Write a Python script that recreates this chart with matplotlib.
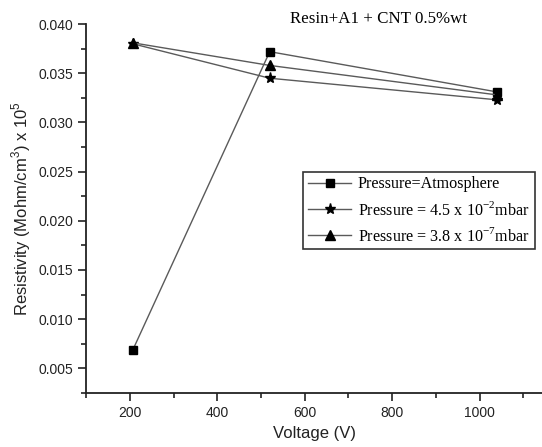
import numpy as np
import matplotlib.pyplot as plt
from matplotlib.ticker import MultipleLocator

# values (markers sit slightly right of the tick marks)
voltage = [207, 520, 1041]
res_atm = [0.0069, 0.0372, 0.0331]
res_45 = [0.0380, 0.0345, 0.0323]
res_38 = [0.0381, 0.0358, 0.0328]

labels = ["Pressure=Atmosphere",
          r"Pressure = 4.5 x 10$^{-2}$mbar",
          r"Pressure = 3.8 x 10$^{-7}$mbar"]

plt.rcParams["font.family"] = ["Liberation Sans", "DejaVu Sans"]
plt.rcParams["mathtext.fontset"] = "custom"
plt.rcParams["mathtext.rm"] = "Liberation Serif"
plt.rcParams["mathtext.sf"] = "Liberation Sans"

fig = plt.figure(figsize=(5.42, 4.47), dpi=100)
ax = fig.add_axes([0.159, 0.121, 0.841, 0.825])

lc = "#5a5a5a"
ax.plot(voltage, res_atm, "-s", color=lc, lw=1.0, mfc="black", mec="black", ms=6, label=labels[0])
ax.plot(voltage, res_45, "-*", color=lc, lw=1.0, mfc="black", mec="black", ms=8, label=labels[1])
ax.plot(voltage, res_38, "-^", color=lc, lw=1.0, mfc="black", mec="black", ms=7, label=labels[2])

ax.set_xlim(100, 1143)
ax.set_ylim(0.0025, 0.040)
ax.xaxis.set_major_locator(MultipleLocator(200))
ax.xaxis.set_minor_locator(MultipleLocator(100))
ax.yaxis.set_major_locator(MultipleLocator(0.005))
ax.yaxis.set_minor_locator(MultipleLocator(0.0025))
ax.set_xticks([200, 400, 600, 800, 1000])
ax.yaxis.set_major_formatter(plt.FormatStrFormatter("%.3f"))

ax.spines["top"].set_visible(False)
ax.spines["right"].set_visible(False)
for s in ("left", "bottom"):
    ax.spines[s].set_linewidth(1.3)
    ax.spines[s].set_color("#222222")
ax.tick_params(which="major", direction="out", length=6, width=1.2, labelsize=10, colors="#222222")
ax.tick_params(which="minor", direction="out", length=3.5, width=1.2, colors="#222222")

ax.set_xlabel("Voltage (V)", fontsize=12, color="#222222")
ax.set_ylabel(r"Resistivity (Mohm/cm$^{\mathsf{3}}$) x 10$^{\mathsf{5}}$", fontsize=12, color="#222222")

leg = ax.legend(loc="upper left", bbox_to_anchor=(0.476, 0.60), fancybox=False,
                edgecolor="#333333", framealpha=1, handlelength=2.7, borderpad=0.3,
                labelspacing=0.5, handletextpad=0.4, borderaxespad=0,
                prop={"family": "Liberation Serif", "size": 11.6})
leg.get_frame().set_linewidth(1.2)

fig.text(0.535, 0.958, "Resin+A1 + CNT 0.5%wt", family="Liberation Serif", fontsize=12.2,
         ha="left", va="center")

fig.savefig("out.png", dpi=100)
